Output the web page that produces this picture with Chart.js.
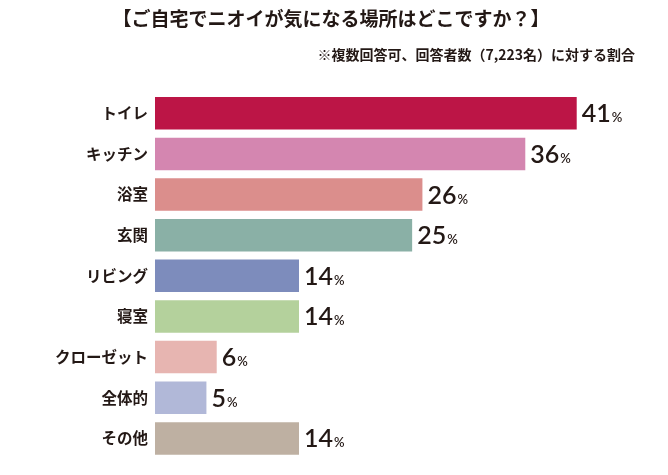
<!DOCTYPE html>
<html lang="ja">
<head>
<meta charset="utf-8">
<script src="https://cdn.jsdelivr.net/npm/chart.js@4/dist/chart.umd.min.js"></script>
<style>
	html, body { margin: 0; padding: 0; background: #fff; }
	#box { width: 668px; height: 475px; position: relative; }
</style>
</head>
<body>
<div id="box"><canvas id="odor-chart"></canvas></div>
<script>
// data
const titleText = '【ご自宅でニオイが気になる場所はどこですか？】';
const noteText = '※複数回答可、回答者数（7,223名）に対する割合';
const categories = ['トイレ', 'キッチン', '浴室', '玄関', 'リビング', '寝室', 'クローゼット', '全体的', 'その他'];
const values = [41, 36, 26, 25, 14, 14, 6, 5, 14];
const unit = '%';
const barColors = ['#bc1546', '#d486b0', '#db8e8c', '#8ab0a6', '#7d8cbc', '#b4d19c', '#e7b5b1', '#b1b8d8', '#beb0a2'];

const ink = '#231815';
const jpFont = '"Noto Sans CJK JP", "Noto Sans", sans-serif';

// header text
const headerPlugin = {
	id: 'header',
	afterDraw(chart) {
		const ctx = chart.ctx;
		ctx.save();
		ctx.fillStyle = ink;
		ctx.textBaseline = 'middle';
		ctx.font = 'bold 19px ' + jpFont;
		ctx.textAlign = 'center';
		ctx.fillText(titleText, 331, 19);
		ctx.font = 'bold 14px ' + jpFont;
		ctx.textAlign = 'right';
		ctx.fillText(noteText, 635, 55);
		ctx.restore();
	}
};

// value labels "41%"
const valueLabels = {
	id: 'valueLabels',
	afterDatasetsDraw(chart) {
		const ctx = chart.ctx;
		const meta = chart.getDatasetMeta(0);
		ctx.save();
		ctx.fillStyle = ink;
		ctx.textAlign = 'left';
		ctx.textBaseline = 'alphabetic';
		meta.data.forEach(function (bar, i) {
			const num = String(values[i]);
			const x = bar.x + 5;
			const y = bar.y + 9;
			ctx.font = '600 25px Lato, "Noto Sans", sans-serif';
			ctx.fillText(num, x, y);
			const w = ctx.measureText(num).width;
			ctx.font = '600 13px Lato, "Noto Sans", sans-serif';
			ctx.fillText(unit, x + w + 1, y);
		});
		ctx.restore();
	}
};

document.addEventListener('DOMContentLoaded', function () {
	const box = document.querySelector('#odor-chart');
	new Chart(box, {
		type: 'bar',
		data: {
			labels: categories,
			datasets: [{
				data: values,
				backgroundColor: barColors,
				borderWidth: 0,
				categoryPercentage: 1,
				barPercentage: 0.8
			}]
		},
		options: {
			indexAxis: 'y',
			animation: false,
			responsive: true,
			maintainAspectRatio: false,
			layout: {
				padding: { top: 93, right: 9, bottom: 0, left: 0 }
			},
			plugins: {
				legend: { display: false },
				tooltip: { enabled: false }
			},
			scales: {
				x: {
					display: false,
					min: 0,
					max: 49
				},
				y: {
					grid: { display: false, drawTicks: false },
					border: { display: false },
					ticks: {
						color: ink,
						padding: 7,
						font: { family: jpFont, size: 15.5, weight: 'bold' }
					},
					afterFit: function (scale) {
						scale.width = 155;
					}
				}
			}
		},
		plugins: [headerPlugin, valueLabels]
	});
});
</script>
</body>
</html>
